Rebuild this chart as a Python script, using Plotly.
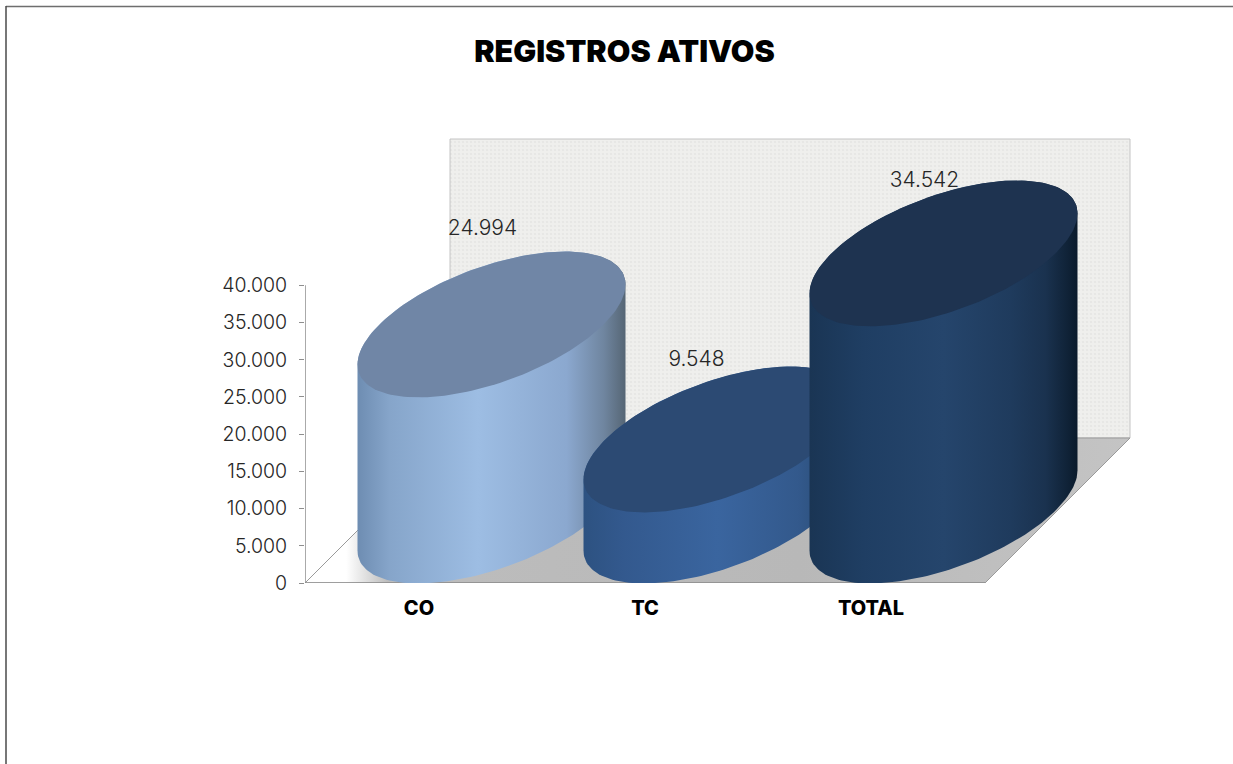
import numpy as np
import plotly.graph_objects as go

CATEGORIES = ["CO", "TC", "TOTAL"]
VALUES = [24994, 9548, 34542]
VALUE_LABELS = ["24.994", "9.548", "34.542"]
TICK_VALUES = [0, 5000, 10000, 15000, 20000, 25000, 30000, 35000, 40000]
TICK_LABELS = ["0", "5.000", "10.000", "15.000", "20.000", "25.000", "30.000", "35.000", "40.000"]
TITLE = "REGISTROS ATIVOS"

W, H = 1233, 764
PLOT_L, PLOT_R, PLOT_T, PLOT_B = 305, 1233, 0, 583
AXIS_MAX = 40000
PX_PER_UNIT = 297.7 / AXIS_MAX
PX_PER_CAT = 226
FIRST_CAT_PX = 419
DEPTH_PX = 72.5
R_X, R_Y_COS, R_Y_SIN = 134, 40, 61

x_of_px = lambda p: (p - FIRST_CAT_PX) / PX_PER_CAT
dx = lambda p: p / PX_PER_CAT
dy = lambda p: p / PX_PER_UNIT

BODY_SCALES = [
    [[0, "#6e8db2"], [0.12, "#86a5ca"], [0.45, "#9dbde3"], [0.78, "#8ba8cf"], [0.92, "#6f859f"], [1, "#566675"]],
    [[0, "#2d5281"], [0.15, "#33598e"], [0.5, "#3a659f"], [0.8, "#33598c"], [1, "#254669"]],
    [[0, "#1a3554"], [0.2, "#1f3e63"], [0.5, "#25456c"], [0.75, "#1f3b5d"], [0.88, "#1a324f"], [0.96, "#102338"], [1, "#0a1a2b"]],
]
TOP_COLORS = ["#7086a6", "#2c4a73", "#1e3350"]
LABEL_SHIFT_PX = [(-9, 95), (-21, 79), (-19, 72)]

FONT = "Inter"
x_left = x_of_px(PLOT_L)
x_right = x_of_px(985)
dep_x, dep_y = dx(2 * DEPTH_PX), dy(2 * DEPTH_PX)
wall_top = dy(444)

fig = go.Figure()

# back wall
fig.add_trace(go.Scatter(
    x=[x_left + dep_x, x_right + dep_x, x_right + dep_x, x_left + dep_x, x_left + dep_x],
    y=[dep_y, dep_y, wall_top, wall_top, dep_y],
    mode="lines", line=dict(color="#c4c4c4", width=1), fill="toself", fillcolor="#eeeeec",
    fillpattern=dict(shape=".", size=4, solidity=0.3, fgcolor="#dededc", bgcolor="#efefed"),
    hoverinfo="skip", showlegend=False))

# floor
fig.add_trace(go.Scatter(
    x=[x_left, x_right, x_right + dep_x, x_left + dep_x, x_left],
    y=[0, 0, dep_y, dep_y, 0],
    mode="lines", line=dict(color="#9a9a9a", width=1), fill="toself", cliponaxis=False,
    fillgradient=dict(type="horizontal", colorscale=[[0, "#ffffff"], [0.05, "#ffffff"], [0.1, "#bdbdbd"], [0.6, "#b8b8b8"], [1, "#c4c4c4"]]),
    hoverinfo="skip", showlegend=False))

# axis lines
fig.add_trace(go.Scatter(x=[x_left, x_left, None, x_left, x_right], y=[0, AXIS_MAX, None, 0, 0],
                         mode="lines", line=dict(color="#8e8e8e", width=1.5), cliponaxis=False,
                         hoverinfo="skip", showlegend=False))

t_lower = np.linspace(0, np.pi, 90)
t_upper = np.linspace(np.pi, 2 * np.pi, 90)


def rim(cx, cy, t):
    return cx + dx(R_X) * np.cos(t), cy + dy(R_Y_COS) * np.cos(t) - dy(R_Y_SIN) * np.sin(t)


for i, (cat, val) in enumerate(zip(CATEGORIES, VALUES)):
    cx = i + dx(DEPTH_PX)
    base = dy(DEPTH_PX)
    top = base + val
    bx, by = rim(cx, base, t_lower)
    ux, uy = rim(cx, top, t_upper)
    fig.add_trace(go.Scatter(
        x=np.concatenate([bx, ux]), y=np.concatenate([by, uy]), mode="lines",
        line=dict(width=0), fill="toself", cliponaxis=False,
        fillgradient=dict(type="horizontal", colorscale=BODY_SCALES[i]),
        hoverinfo="skip", showlegend=False, name=cat))
    t_all = np.linspace(0, 2 * np.pi, 180)
    tx, ty = rim(cx, top, t_all)
    fig.add_trace(go.Scatter(
        x=tx, y=ty, mode="lines", line=dict(width=0), fill="toself", fillcolor=TOP_COLORS[i],
        hoverinfo="skip", showlegend=False, name=cat + " top"))

# value labels
fig.add_trace(go.Scatter(
    x=[i + dx(DEPTH_PX) + dx(s[0]) for i, s in enumerate(LABEL_SHIFT_PX)],
    y=[v + dy(DEPTH_PX) + dy(s[1]) for v, s in zip(VALUES, LABEL_SHIFT_PX)],
    mode="text", text=VALUE_LABELS, textposition="middle center",
    textfont=dict(family=FONT, size=21, color="#262626", weight=300),
    hoverinfo="skip", showlegend=False))

fig.update_layout(
    width=W, height=H, autosize=False,
    margin=dict(l=PLOT_L, r=W - PLOT_R, t=PLOT_T, b=H - PLOT_B, pad=0),
    paper_bgcolor="white", plot_bgcolor="rgba(0,0,0,0)", showlegend=False,
    title=dict(text=TITLE, xref="container", yref="container", x=624.5 / W, y=1 - 51 / H,
               xanchor="center", yanchor="middle",
               font=dict(family=FONT, size=30.5, color="#000000", weight=900)),
    xaxis=dict(range=[x_left, x_of_px(PLOT_R)], tickmode="array", tickvals=list(range(len(CATEGORIES))),
               ticktext=CATEGORIES, ticks="", ticklabelstandoff=11, showgrid=False, zeroline=False, showline=False,
               tickfont=dict(family=FONT, size=20, color="#000000", weight=800)),
    yaxis=dict(range=[0, dy(PLOT_B - PLOT_T)], tickmode="array", tickvals=TICK_VALUES, ticktext=TICK_LABELS,
               ticks="outside", ticklen=5, tickcolor="#8e8e8e", tickwidth=1, ticklabelstandoff=8,
               showgrid=False, zeroline=False, showline=False,
               tickfont=dict(family=FONT, size=19.5, color="#262626", weight=300)),
    shapes=[
        dict(type="line", xref="paper", yref="paper",
             x0=(6 - PLOT_L) / (PLOT_R - PLOT_L), x1=(1233 - PLOT_L) / (PLOT_R - PLOT_L),
             y0=(PLOT_B - 6.5) / PLOT_B, y1=(PLOT_B - 6.5) / PLOT_B,
             line=dict(color="#6e6e6e", width=1.5), layer="below"),
        dict(type="line", xref="paper", yref="paper",
             x0=(6 - PLOT_L) / (PLOT_R - PLOT_L), x1=(6 - PLOT_L) / (PLOT_R - PLOT_L),
             y0=(PLOT_B - 6) / PLOT_B, y1=(PLOT_B - 764) / PLOT_B,
             line=dict(color="#4a4a4a", width=1.5), layer="below"),
    ],
)

fig.write_html("out.html", config={"displayModeBar": False},
               post_script="document.body.style.margin='0';document.body.style.overflow='hidden';")
